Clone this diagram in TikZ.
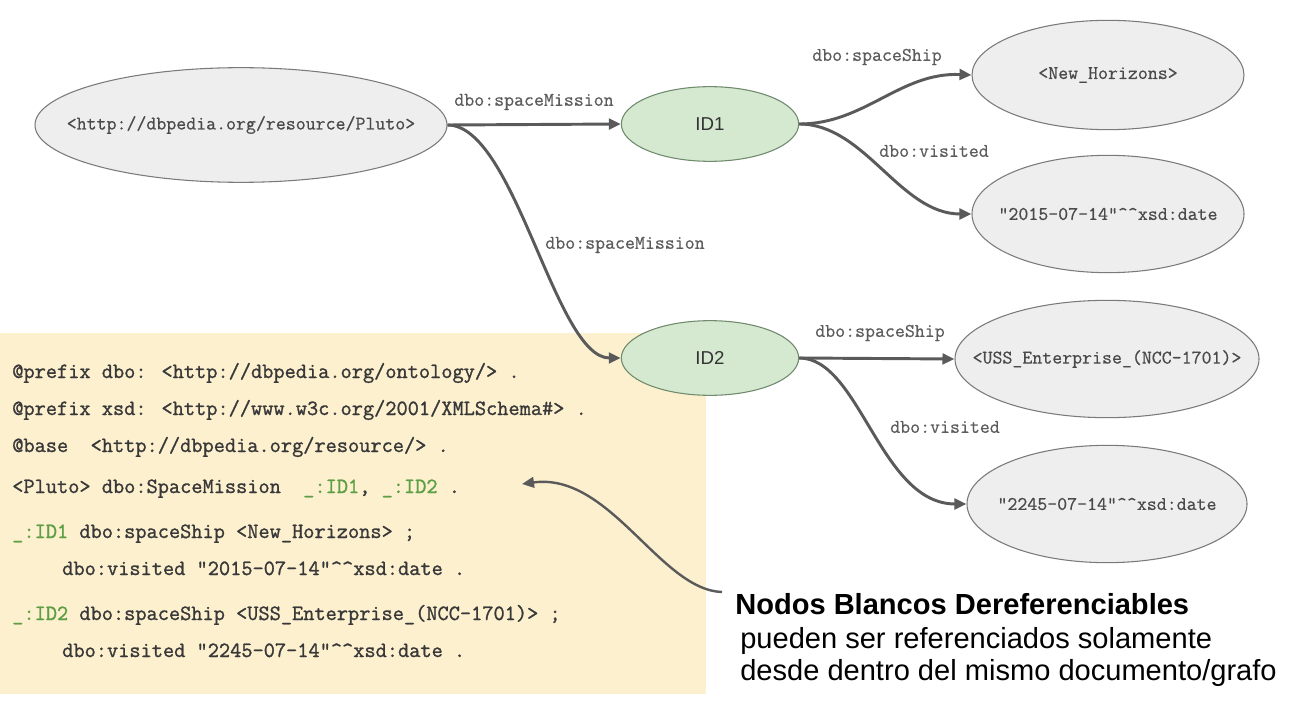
\documentclass[tikz,border=0pt]{standalone}
\usepackage{fontspec}
\setmainfont{Liberation Sans}
\newfontfamily\monof{Latin Modern Mono}[FakeBold=0.6]
\newfontfamily\codef{Latin Modern Mono}[FakeBold=1.2]
\usetikzlibrary{shapes.geometric,arrows.meta}
\definecolor{nodefill}{HTML}{EEEEEE}
\definecolor{nodeline}{HTML}{7A7A7A}
\definecolor{greenfill}{HTML}{D5E8D0}
\definecolor{greenline}{HTML}{6F8A6C}
\definecolor{arrowcol}{HTML}{5A5A5A}
\definecolor{txtgray}{HTML}{4A4A4A}
\definecolor{labgray}{HTML}{5C5C5C}
\definecolor{codetxt}{HTML}{383838}
\definecolor{codebg}{HTML}{FDF0CF}
\definecolor{codegreen}{HTML}{5E9E45}
\tikzset{
  res/.style={ellipse, draw=nodeline, fill=nodefill, line width=0.8pt, inner sep=0pt},
  ntext/.style={text=txtgray, inner sep=0pt, font=\monof\fontsize{14.5}{16}\selectfont},
  blank/.style={ellipse, draw=greenline, fill=greenfill, line width=0.8pt, inner sep=0pt,
    minimum width=133pt, minimum height=56pt, text=black!80, font=\fontsize{14}{16}\selectfont},
  elabel/.style={text=labgray, inner sep=0pt, font=\monof\fontsize{14.5}{16}\selectfont},
  arr/.style={draw=arrowcol, line width=2.2pt, -{Triangle[length=9pt,width=8pt]}},
  code/.style={anchor=base west, inner sep=0pt, text=codetxt, font=\codef\fontsize{16.3}{18}\selectfont},
  note/.style={anchor=base west, inner sep=0pt, text=black, font=\fontsize{21.8}{24}\selectfont}
}
\newcommand{\gid}[1]{\textcolor{codegreen}{\_:#1}}
\begin{document}
\begin{tikzpicture}[x=0.75pt,y=-0.75pt]
\useasboundingbox (0,0) rectangle (1294,720);
\fill[white] (0,0) rectangle (1294,720);
% code background
\fill[codebg] (0,333) rectangle (706,694);

% graph nodes
\node[res, minimum width=309pt, minimum height=86pt,
  label={[ntext]center:<http://dbpedia.org/resource/Pluto>}] (pluto) at (241,125) {};
\node[blank] (id1) at (710,124) {ID1};
\node[blank] (id2) at (710,358) {ID2};
\node[res, minimum width=204pt, minimum height=82pt,
  label={[ntext]center:<New\_Horizons>}] (nh) at (1108,75) {};
\node[res, minimum width=204pt, minimum height=88pt,
  label={[ntext]center:“2015-07-14”\textasciicircum\textasciicircum xsd:date}] (d1) at (1108,214) {};
\node[res, minimum width=228pt, minimum height=88pt,
  label={[ntext]center:<USS\_Enterprise\_(NCC-1701)>}] (uss) at (1107,359) {};
\node[res, minimum width=210pt, minimum height=88pt,
  label={[ntext]center:“2245-07-14”\textasciicircum\textasciicircum xsd:date}] (d2) at (1107,504) {};

% connectors
\draw[arr] (pluto.east) -- (id1.west);
\draw[arr] (pluto.east) .. controls (515,125) and (555,358) .. (id2.west);
\draw[arr] (id1.east) .. controls (865,124) and (900,72) .. (nh.west);
\draw[arr] (id1.east) .. controls (865,124) and (900,214) .. (d1.west);
\draw[arr] (id2.east) -- (uss.west);
\draw[arr] (id2.east) .. controls (860,358) and (880,504) .. (d2.west);

% edge labels
\node[elabel] (l1) at (534,102) {dbo:spaceMission};
\node[elabel] (l2) at (625,245) {dbo:spaceMission};
\node[elabel] (l3) at (877,57) {dbo:spaceShip};
\node[elabel] (l4) at (934,151) {dbo:visited};
\node[elabel] (l5) at (880,333) {dbo:spaceShip};
\node[elabel] (l6) at (945,427) {dbo:visited};

% code
\node[code] (c1) at (12,378) {@prefix dbo: <http://dbpedia.org/ontology/> .};
\node[code] (c2) at (12,415) {@prefix xsd: <http://www.w3c.org/2001/XMLSchema\#> .};
\node[code] (c3) at (12,452) {@base\ \ <http://dbpedia.org/resource/> .};
\node[code] (c4) at (12,493) {<Pluto> dbo:SpaceMission\ \ \gid{ID1}, \gid{ID2} .};
\node[code] (c5) at (12,538) {\gid{ID1} dbo:spaceShip <New\_Horizons> ;};
\node[code] (c6) at (62,575) {dbo:visited "2015-07-14"\textasciicircum\textasciicircum xsd:date .};
\node[code] (c7) at (12,620) {\gid{ID2} dbo:spaceShip <USS\_Enterprise\_(NCC-1701)> ;};
\node[code] (c8) at (62,657) {dbo:visited "2245-07-14"\textasciicircum\textasciicircum xsd:date .};

% note
\node[note, font=\bfseries\fontsize{21.8}{24}\selectfont] (n1) at (735,614) {Nodos Blancos Dereferenciables};
\node[note] (n2) at (740,648) {pueden ser referenciados solamente};
\node[note] (n3) at (740,680) {desde dentro del mismo documento/grafo};
\coordinate (nstart) at (722,592);
\coordinate (ntip) at (522,484);
\draw[arr, line width=1.8pt] (nstart) .. controls (660,590) and (610,472) .. (ntip);
\end{tikzpicture}
\end{document}
